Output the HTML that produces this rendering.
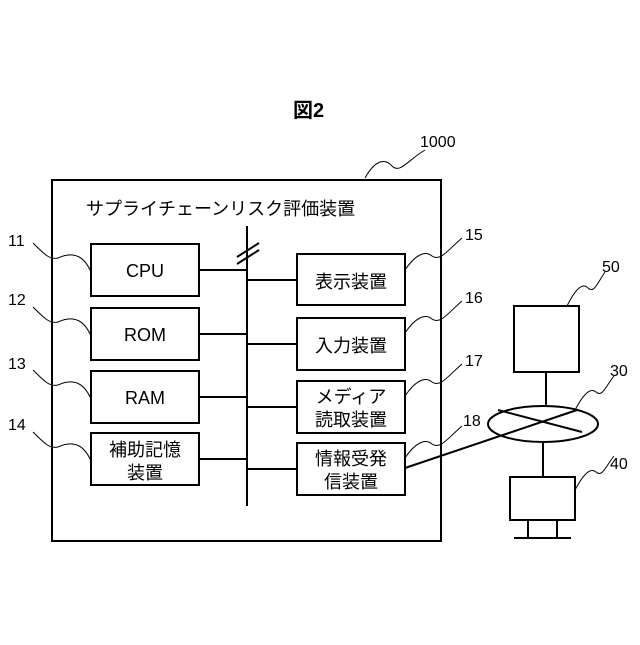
<!DOCTYPE html>
<html><head><meta charset="utf-8"><style>
body{margin:0;background:#fff}
svg text{font-family:"Liberation Sans","Noto Sans CJK JP",sans-serif;fill:#000}
</style></head><body>
<svg width="640" height="640" viewBox="0 0 640 640" xmlns="http://www.w3.org/2000/svg">
<g fill="none" stroke="#000" stroke-width="2">
<rect x="52" y="180" width="389" height="361"/>
<rect x="91" y="244" width="108" height="52"/>
<rect x="91" y="308" width="108" height="52"/>
<rect x="91" y="371" width="108" height="52"/>
<rect x="91" y="433" width="108" height="52"/>
<rect x="297" y="254" width="108" height="51"/>
<rect x="297" y="318" width="108" height="52"/>
<rect x="297" y="381" width="108" height="52"/>
<rect x="297" y="443" width="108" height="52"/>
<line x1="247" y1="226" x2="247" y2="506"/>
<line x1="237" y1="257" x2="259" y2="243"/>
<line x1="237" y1="264" x2="259" y2="250"/>
<line x1="199" y1="270" x2="247" y2="270"/>
<line x1="199" y1="334" x2="247" y2="334"/>
<line x1="199" y1="397" x2="247" y2="397"/>
<line x1="199" y1="459" x2="247" y2="459"/>
<line x1="247" y1="280" x2="297" y2="280"/>
<line x1="247" y1="344" x2="297" y2="344"/>
<line x1="247" y1="407" x2="297" y2="407"/>
<line x1="247" y1="469" x2="297" y2="469"/>
<rect x="514" y="306" width="65" height="66"/>
<rect x="510" y="477" width="65" height="43"/>
<ellipse cx="543" cy="424" rx="55" ry="18"/>
<line x1="546" y1="372" x2="546" y2="406"/>
<line x1="543" y1="442" x2="543" y2="477"/>
<line x1="528" y1="520" x2="528" y2="538"/>
<line x1="557" y1="520" x2="557" y2="538"/>
<line x1="514" y1="538" x2="571" y2="538"/>
<line x1="405" y1="468" x2="577" y2="410"/>
<line x1="498" y1="410" x2="582" y2="432"/>
</g>
<g fill="none" stroke="#000" stroke-width="1">
<path d="M365 178 C375 160 385 158 392 166 C400 174 408 160 425 150"/>
<path d="M33 243 C45 255 50 260 58 258 C75 250 85 258 91 272"/>
<path d="M33 307 C45 319 50 324 58 322 C75 314 85 322 91 336"/>
<path d="M33 370 C45 382 50 387 58 385 C75 377 85 385 91 399"/>
<path d="M33 432 C45 444 50 449 58 447 C75 439 85 447 91 461"/>
<path d="M405 270 C415 255 425 250 432 256 C440 262 448 250 462 238"/>
<path d="M405 333 C415 318 425 313 432 319 C440 325 448 313 462 301"/>
<path d="M405 396 C415 381 425 376 432 382 C440 388 448 376 462 364"/>
<path d="M405 458 C415 443 425 438 432 444 C440 450 448 438 462 426"/>
<path d="M567 306 C575 290 582 282 588 288 C594 294 598 282 605 272"/>
<path d="M575 410 C583 395 590 387 596 392 C602 398 606 386 614 376"/>
<path d="M575 490 C583 475 590 467 596 472 C602 478 606 466 614 456"/>
</g>
<text x="293" y="117" font-size="20" font-weight="bold">図2</text>
<text x="420" y="147" font-size="16">1000</text>
<text x="86" y="215" font-size="18">サプライチェーンリスク評価装置</text>
<g font-size="16">
<text x="8" y="246">11</text><text x="8" y="305">12</text><text x="8" y="369">13</text><text x="8" y="430">14</text>
<text x="465" y="240">15</text><text x="465" y="303">16</text><text x="465" y="366">17</text><text x="463" y="426">18</text>
<text x="602" y="272">50</text><text x="610" y="376">30</text><text x="610" y="469">40</text>
</g>
<g font-size="18" text-anchor="middle">
<text x="145" y="277">CPU</text>
<text x="145" y="341">ROM</text>
<text x="145" y="404">RAM</text>
<text x="145" y="456">補助記憶</text>
<text x="145" y="479">装置</text>
<text x="351" y="288">表示装置</text>
<text x="351" y="352">入力装置</text>
<text x="351" y="403">メディア</text>
<text x="351" y="426">読取装置</text>
<text x="351" y="465">情報受発</text>
<text x="351" y="488">信装置</text>
</g>
</svg>
</body></html>
